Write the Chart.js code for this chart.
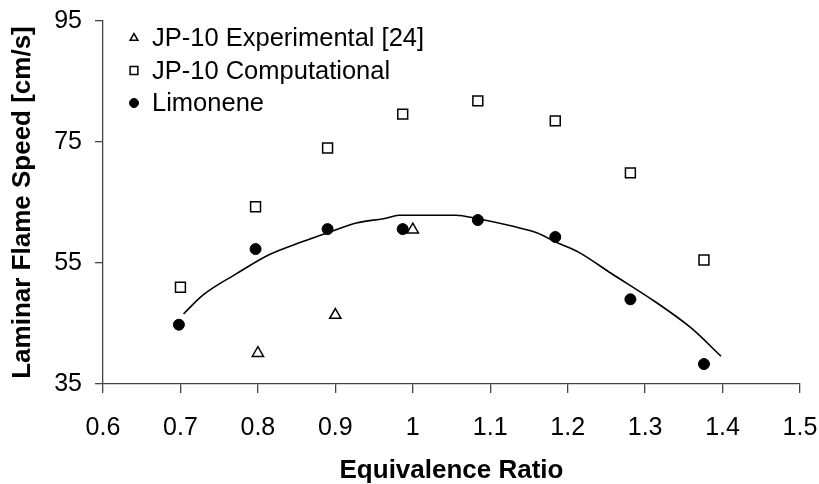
<!DOCTYPE html>
<html>
<head>
<meta charset="utf-8">
<script src="https://cdn.jsdelivr.net/npm/chart.js@4.4.1/dist/chart.umd.min.js"></script>
<style>
  html, body { margin: 0; padding: 0; background: #fff; }
  #wrap { width: 819px; height: 484px; position: relative; }
</style>
</head>
<body>
<div id="wrap"><canvas id="flame-chart"></canvas></div>
<script>
// values
const expPhi = [0.8, 0.9, 1.0];
const expSpeed = [40.1, 46.4, 60.5];

const compPhi = [0.7, 0.797, 0.89, 0.987, 1.084, 1.184, 1.281, 1.376];
const compSpeed = [51.0, 64.3, 74.0, 79.6, 81.8, 78.5, 69.9, 55.5];

const limPhi = [0.698, 0.797, 0.89, 0.987, 1.084, 1.184, 1.281, 1.376];
const limSpeed = [44.8, 57.3, 60.6, 60.6, 62.1, 59.3, 49.0, 38.3];

// trend line through the limonene points
const fitPhi = [0.704, 0.729, 0.772, 0.815, 0.857, 0.892, 0.927, 0.965, 0.982, 1.056, 1.081, 1.128, 1.160, 1.184, 1.214, 1.256, 1.313, 1.359, 1.398];
const fitSpeed = [46.6, 49.7, 53.2, 56.4, 58.5, 60.1, 61.6, 62.4, 62.9, 62.9, 62.4, 61.1, 60.0, 58.5, 56.8, 53.3, 48.6, 44.3, 39.6];

const xTicks = [0.6, 0.7, 0.8, 0.9, 1.0, 1.1, 1.2, 1.3, 1.4, 1.5];
const yTicks = [35, 55, 75, 95];

const toPoints = (xs, ys) => xs.map((x, i) => ({ x: x, y: ys[i] }));

Chart.defaults.font.family = "'Liberation Sans', Arial, sans-serif";
Chart.defaults.color = '#000';

// legend drawn inside the plot area, top left
const innerLegend = {
  id: 'innerLegend',
  afterDatasetsDraw(chart) {
    const ctx = chart.ctx;
    const items = chart.data.datasets.filter(d => d.inLegend);
    ctx.save();
    ctx.font = "25.5px 'Liberation Sans', Arial, sans-serif";
    ctx.textBaseline = 'middle';
    ctx.textAlign = 'left';
    items.forEach((d, i) => {
      const y = 38 + i * 32.5;
      ctx.fillStyle = d.pointBackgroundColor;
      ctx.strokeStyle = d.pointBorderColor;
      ctx.lineWidth = d.pointBorderWidth;
      Chart.helpers.drawPoint(ctx, {
        pointStyle: d.pointStyle,
        radius: d.legendRadius,
        rotation: 0,
        borderWidth: d.pointBorderWidth,
      }, 134, y);
      ctx.fillStyle = '#000';
      ctx.fillText(d.label, 152, y + 1);
    });
    ctx.restore();
  },
};

const chart = new Chart(document.getElementById('flame-chart'), {
  type: 'scatter',
  data: {
    datasets: [
      {
        label: 'JP-10 Experimental [24]',
        data: toPoints(expPhi, expSpeed),
        pointStyle: 'triangle',
        pointRadius: 6.5,
        legendRadius: 4.5,
        pointBackgroundColor: '#fff',
        pointBorderColor: '#000',
        pointBorderWidth: 1.5,
        inLegend: true,
        order: 1,
      },
      {
        label: 'JP-10 Computational',
        data: toPoints(compPhi, compSpeed),
        pointStyle: 'rect',
        pointRadius: 7,
        legendRadius: 5.5,
        pointBackgroundColor: '#fff',
        pointBorderColor: '#000',
        pointBorderWidth: 1.5,
        inLegend: true,
        order: 2,
      },
      {
        label: 'Limonene',
        data: toPoints(limPhi, limSpeed),
        pointStyle: 'circle',
        pointRadius: 5.5,
        legendRadius: 4.5,
        pointBackgroundColor: '#000',
        pointBorderColor: '#000',
        pointBorderWidth: 1,
        inLegend: true,
        order: 3,
      },
      {
        label: 'fit',
        type: 'line',
        data: toPoints(fitPhi, fitSpeed),
        borderColor: '#000',
        borderWidth: 1.6,
        pointRadius: 0,
        fill: false,
        cubicInterpolationMode: 'monotone',
        inLegend: false,
        order: 4,
      },
    ],
  },
  options: {
    responsive: true,
    maintainAspectRatio: false,
    animation: false,
    layout: { padding: { left: 0, right: 19, top: 21, bottom: 0 } },
    plugins: {
      legend: { display: false },
      tooltip: { enabled: false },
    },
    scales: {
      x: {
        type: 'linear',
        min: 0.6,
        max: 1.5,
        afterBuildTicks: (scale) => { scale.ticks = xTicks.map(v => ({ value: v })); },
        afterFit: (scale) => {
          scale.height = 100;
          scale.paddingLeft = 0;
          scale.paddingRight = 0;
        },
        ticks: {
          font: { size: 25 },
          padding: 20,
          maxRotation: 0,
          callback: (v) => String(+v.toFixed(1)),
        },
        grid: { drawOnChartArea: false, tickLength: 9, color: '#444', lineWidth: 1.3 },
        border: { color: '#444', width: 1.3 },
        title: {
          display: true,
          text: 'Equivalence Ratio',
          font: { size: 26, weight: 'bold', lineHeight: 1.04 },
          padding: { top: 0, bottom: 0 },
        },
      },
      y: {
        type: 'linear',
        min: 35,
        max: 95,
        afterBuildTicks: (scale) => { scale.ticks = yTicks.map(v => ({ value: v })); },
        afterFit: (scale) => {
          scale.width = 103;
          scale.paddingTop = 0;
          scale.paddingBottom = 0;
        },
        ticks: {
          font: { size: 25 },
          padding: 13,
        },
        grid: { drawOnChartArea: false, tickLength: 8, color: '#444', lineWidth: 1.3 },
        border: { color: '#444', width: 1.3 },
        title: {
          display: true,
          text: 'Laminar Flame Speed [cm/s]',
          font: { size: 26, weight: 'bold' },
          padding: { top: 7, bottom: 0 },
        },
      },
    },
  },
  plugins: [innerLegend],
});
</script>
</body>
</html>
